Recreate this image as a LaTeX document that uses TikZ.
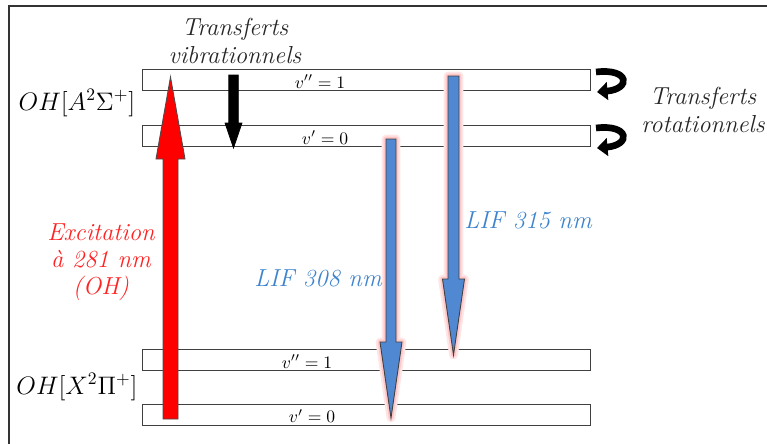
\documentclass[tikz,border=0pt]{standalone}
\usepackage{tikz}
\usetikzlibrary{arrows.meta,calc}
\definecolor{exred}{RGB}{255,35,35}
\definecolor{lifblue}{RGB}{80,137,210}
\definecolor{liftext}{RGB}{62,132,205}
\newcommand{\bigit}{\fontsize{14}{15.5}\selectfont\itshape}
% vertical fat arrow: [style]{start}{tip}{shaft half width}{head half width}{head length, signed}
\newcommand{\fatarrow}[6][]{%
  \draw[#1] ($(#2)+(-#4,0)$) -- ($(#3)+(-#4,#6)$) -- ($(#3)+(-#5,#6)$) -- (#3)
    -- ($(#3)+(#5,#6)$) -- ($(#3)+(#4,#6)$) -- ($(#2)+(#4,0)$) -- cycle;}

\begin{document}
\begin{tikzpicture}[x=0.02cm,y=-0.02cm,
  lvl/.style={draw=black!75,line width=0.5pt,minimum width=8.96cm,minimum height=0.42cm,inner sep=0pt},
  lvltxt/.style={anchor=base,inner sep=0pt,font=\fontsize{10}{12}\selectfont},
  state/.style={inner sep=0pt,font=\fontsize{14.4}{16}\selectfont},
  note/.style={inner sep=0pt,align=center,font=\bigit},
  excarrow/.style={fill=red,draw=black!70,line width=0.5pt},
  vibarrow/.style={fill=black,draw=black,line width=0.4pt},
  lifarrow/.style={fill=lifblue,draw=black!75,line width=0.5pt,
    preaction={draw=red!10,line width=5pt,line join=round},
    preaction={draw=red!22,line width=2.6pt,line join=round}},
  rotarrow/.style={line width=3.8pt,-{Triangle[length=6pt,width=10pt]}}]
\useasboundingbox (0,0) rectangle (767,443);
\draw[black!80,line width=0.7pt] (9,6) rectangle (790,470);

% energy levels
\node[lvl] (a1) at (366,79.5) {};
\node[lvl] (a0) at (366,135.5) {};
\node[lvl] (x1) at (366,359.5) {};
\node[lvl] (x0) at (366,415) {};
\node[lvltxt] (a1t) at (320,88) {$v''=1$};
\node[lvltxt] (a0t) at (325,144.3) {$v'=0$};
\node[lvltxt] (x1t) at (307,368) {$v''=1$};
\node[lvltxt] (x0t) at (312,422.7) {$v'=0$};
\node[state] (A) at (77,103) {$OH[A^2\Sigma^+]$};
\node[state] (X) at (77,387) {$OH[X^2\Pi^+]$};

% transitions
\coordinate (exc-s) at (170.5,419);
\coordinate (exc-e) at (170.5,77);
\fatarrow[excarrow]{exc-s}{exc-e}{7.5}{14.5}{82}
\coordinate (vib-s) at (233.5,75);
\coordinate (vib-e) at (233.5,148);
\fatarrow[vibarrow]{vib-s}{vib-e}{4.75}{8.5}{-25}
\coordinate (lif1-s) at (391,139);
\coordinate (lif1-e) at (391,418);
\fatarrow[lifarrow]{lif1-s}{lif1-e}{5}{11}{-76}
\coordinate (lif2-s) at (453.5,76);
\coordinate (lif2-e) at (453.5,355);
\fatarrow[lifarrow]{lif2-s}{lif2-e}{5.5}{11}{-76}

% rotational transfers
\coordinate (rot1-s) at (596,72);
\coordinate (rot1-e) at (597,92);
\coordinate (rot0-s) at (596,128);
\coordinate (rot0-e) at (597,148);
\draw[rotarrow] (rot1-s) .. controls ($(rot1-s)+(34,-4)$) and ($(rot1-e)+(34,-3)$) .. (rot1-e);
\draw[rotarrow] (rot0-s) .. controls ($(rot0-s)+(34,-4)$) and ($(rot0-e)+(34,-3)$) .. (rot0-e);

% labels
\node[note,text=black!85] (vibt) at (235,41) {Transferts\\vibrationnels};
\node[note,text=black!85] (rott) at (703,110) {Transferts\\rotationnels};
\node[note,text=exred] (exct) at (101,262) {Excitation\\à 281 nm\\(OH)};
\node[note,text=liftext] (lif1t) at (318,278) {LIF 308 nm};
\node[note,text=liftext] (lif2t) at (528,220) {LIF 315 nm};
\end{tikzpicture}
\end{document}
